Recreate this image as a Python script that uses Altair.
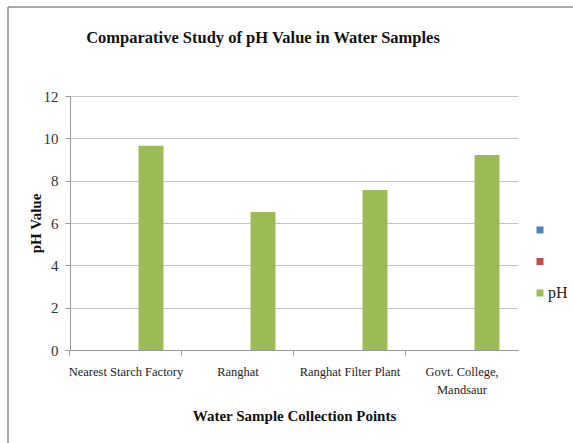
import altair as alt
import pandas as pd

# Sampling points and measured pH
sites = ["Nearest Starch Factory", "Ranghat", "Ranghat Filter Plant", "Govt. College, Mandsaur"]
ph_values = [9.65, 6.52, 7.56, 9.21]

# Series slots of the clustered column chart (only pH carries values)
series_names = ["Series1", "Series2", "pH"]
series_colors = ["#4F81BD", "#C0504D", "#9BBB59"]

df = pd.DataFrame({"site": sites, "value": ph_values, "series": ["pH"] * len(sites)})

serif = "Liberation Serif"

bars = alt.Chart(df).mark_bar(size=25).encode(
    x=alt.X(
        "site:N",
        sort=sites,
        scale=alt.Scale(paddingInner=0.33, paddingOuter=0.165),
        axis=alt.Axis(
            title="Water Sample Collection Points",
            titleFont=serif,
            titleFontSize=15,
            titleFontWeight="bold",
            titleColor="#111111",
            titleY=65,
            titleBaseline="middle",
            labelFont=serif,
            labelFontSize=12.5,
            labelColor="#222222",
            labelAngle=0,
            labelPadding=10,
            labelLineHeight=18,
            labelExpr="datum.label == 'Govt. College, Mandsaur' ? ['Govt. College,', 'Mandsaur'] : datum.label",
            bandPosition=-0.2467,
            tickSize=5,
            tickColor="#9a9a9a",
            domainColor="#9a9a9a",
            grid=False,
        ),
    ),
    xOffset=alt.XOffset("series:N", scale=alt.Scale(domain=series_names)),
    y=alt.Y(
        "value:Q",
        scale=alt.Scale(domain=[0, 12]),
        axis=alt.Axis(
            title="pH Value",
            titleFont=serif,
            titleFontSize=15,
            titleFontWeight="bold",
            titleColor="#111111",
            titleX=-35,
            titleY=127,
            titleAngle=270,
            titleAlign="center",
            titleBaseline="middle",
            values=[0, 2, 4, 6, 8, 10, 12],
            labelFont=serif,
            labelFontSize=15,
            labelColor="#333333",
            labelPadding=7,
            tickSize=5,
            tickColor="#9a9a9a",
            domainColor="#9a9a9a",
            gridColor="#c4c4c4",
        ),
    ),
    color=alt.Color(
        "series:N",
        scale=alt.Scale(domain=series_names, range=series_colors),
        legend=alt.Legend(
            title=None,
            orient="none",
            legendX=462,
            legendY=126,
            symbolType="square",
            symbolSize=49,
            symbolStrokeWidth=0,
            labelFont=serif,
            labelFontSize=16,
            labelColor="#222222",
            labelOffset=0,
            rowPadding=15.5,
            labelExpr="datum.label == 'pH' ? 'pH' : ''",
        ),
    ),
)

# Chart-area frame lines (left and top edges)
frame_df = pd.DataFrame({"k": [0]})
frame_left = alt.Chart(frame_df).mark_rule(color="#8c8c8c", strokeWidth=1.5).encode(
    x=alt.value(-62), y=alt.value(-89), y2=alt.value(360)
)
frame_top = alt.Chart(frame_df).mark_rule(color="#8c8c8c", strokeWidth=1.5).encode(
    x=alt.value(-62), x2=alt.value(520), y=alt.value(-89)
)

chart = alt.layer(bars, frame_left, frame_top).properties(
    width=448,
    height=254,
    autosize=alt.AutoSizeParams(type="none"),
    padding={"left": 70, "top": 96, "right": 55, "bottom": 93},
    background="white",
    title=alt.TitleParams(
        text="Comparative Study of  pH Value in Water Samples",
        font=serif,
        fontSize=16.5,
        fontWeight="bold",
        color="#111111",
        anchor="middle",
        baseline="bottom",
        dx=-31,
        offset=-56,
    ),
).configure_view(stroke=None)

chart.save("out.html", embed_options={"renderer": "svg", "actions": False})
